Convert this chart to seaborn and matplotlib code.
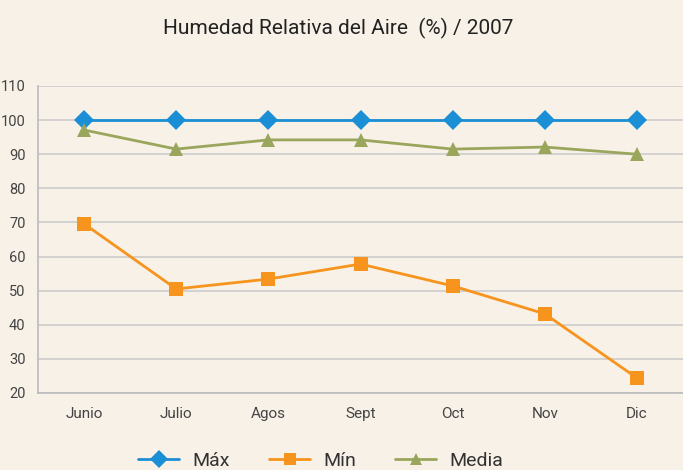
import seaborn as sns
import matplotlib.pyplot as plt
import pandas as pd
from matplotlib.ticker import FixedLocator

months = ["Junio", "Julio", "Agos", "Sept", "Oct", "Nov", "Dic"]
maximo = [100, 100, 100, 100, 100, 100, 100]
minimo = [69.6, 50.5, 53.4, 57.8, 51.4, 43.2, 24.4]
media = [97.1, 91.5, 94.2, 94.2, 91.5, 92.1, 90.0]

bg = "#F8F1E7"
colors = {"Máx": "#1A8FD6", "Mín": "#F7941D", "Media": "#9AA65C"}
markers = {"Máx": "D", "Mín": "s", "Media": "^"}

df = pd.DataFrame({"mes": months, "Máx": maximo, "Mín": minimo, "Media": media})
data = pd.melt(df, id_vars=["mes"], var_name="serie", value_name="valor")

sns.set_style("white")
plt.rcParams["font.family"] = ["Roboto", "DejaVu Sans"]

fig = plt.figure(figsize=(6.83, 4.70), dpi=100, facecolor=bg)
ax = fig.add_axes([38 / 683, 77 / 470, 645 / 683, 307 / 470], facecolor=bg)

sns.lineplot(data=data, x="mes", y="valor", hue="serie", style="serie",
             palette=colors, markers=markers, dashes=False, markersize=10,
             linewidth=2, markeredgewidth=0, ax=ax, legend=False)

ax.set_xlim(-0.5, 6.5)
ax.set_ylim(20, 110)
ax.set_yticks(range(20, 111, 10))
ax.yaxis.grid(True, color="#CCCCCC", linewidth=1.2)
ax.set_axisbelow(True)
for s in ["top", "right"]:
    ax.spines[s].set_visible(False)
for s in ["left", "bottom"]:
    ax.spines[s].set_color("#BBBBBB")
    ax.spines[s].set_linewidth(1.2)

ax.set_xticks(range(len(months)))
ax.set_xticklabels(months)
ax.tick_params(axis="x", which="major", length=0, pad=10, labelsize=11, labelcolor="#444444")
ax.xaxis.set_minor_locator(FixedLocator([i + 0.5 for i in range(6)]))
ax.tick_params(axis="x", which="minor", length=5, color="#BBBBBB", width=1.2, direction="out")
ax.tick_params(axis="y", length=6, color="#BBBBBB", width=1.2, pad=3, labelsize=10.5, labelcolor="#444444")
ax.set_xlabel("")
ax.set_ylabel("")

fig.text(0.495, 0.94, "Humedad Relativa del Aire  (%) / 2007", ha="center", va="center",
         fontsize=15, color="#222222")

handles = [plt.Line2D([], [], color=colors[k], marker=markers[k], markersize=9,
                      markeredgewidth=0, linewidth=2) for k in colors]
fig.legend(handles, list(colors.keys()), loc="center", bbox_to_anchor=(0.47, 0.02),
           ncol=3, frameon=False, fontsize=14, handlelength=2.1, handletextpad=0.7,
           columnspacing=2.0, labelcolor="#333333")

fig.savefig("out.png", dpi=100, facecolor=bg)
